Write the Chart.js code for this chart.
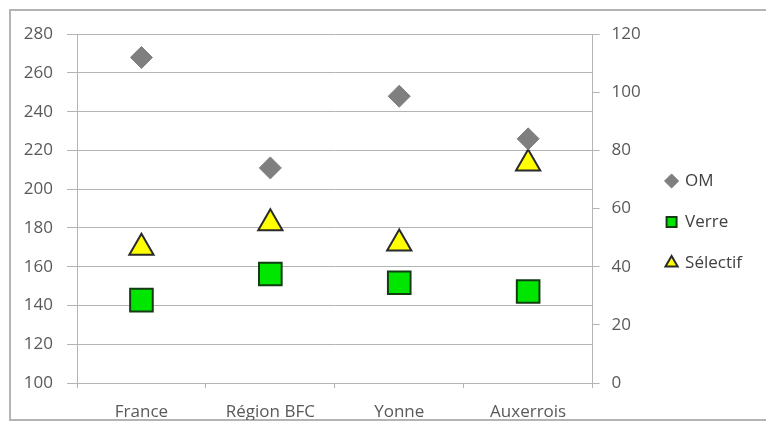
<!DOCTYPE html>
<html>
<head>
<meta charset="utf-8">
<script src="https://cdn.jsdelivr.net/npm/chart.js@4"></script>
<style>
  body { margin: 0; background: #fff; }
  #wrap { position: relative; width: 766px; height: 433px; overflow: hidden; }
  #frame { position: absolute; left: 9px; top: 9px; width: 780px; height: 412px; border: 2px solid #b4b4b4; box-sizing: border-box; }
  canvas { position: absolute; left: 0; top: 0; }
</style>
</head>
<body>
<div id="wrap">
  <div id="frame"></div>
  <canvas id="chart" width="766" height="433"></canvas>
</div>
<script>
// valeurs (kg/hab)
const categories = ['France', 'Région BFC', 'Yonne', 'Auxerrois'];
const omValues = [268, 211, 248, 226];
const verreValues = [28.5, 37.5, 34.5, 31.5];
const selectifValues = [46.5, 55, 48, 75.5];

const leftTicks = { min: 100, max: 280, step: 20 };
const rightTicks = { min: 0, max: 120, step: 20 };

const axisColor = '#b4b4b4';
const labelColor = '#595959';
const font = { family: '"Open Sans", sans-serif', size: 17 };

const ctx = document.getElementById('chart').getContext('2d');
new Chart(ctx, {
    type: 'line',
    data: {
        labels: categories,
        datasets: [
            {
                label: 'OM',
                data: omValues,
                yAxisID: 'y',
                showLine: false,
                pointStyle: 'rectRot',
                pointRadius: 11,
                backgroundColor: '#7f7f7f',
                borderColor: '#7f7f7f',
                borderWidth: 1
            },
            {
                label: 'Verre',
                data: verreValues,
                yAxisID: 'y2',
                showLine: false,
                pointStyle: 'rect',
                pointRadius: 16,
                backgroundColor: '#00e600',
                borderColor: '#123d12',
                borderWidth: 2
            },
            {
                label: 'Sélectif',
                data: selectifValues,
                yAxisID: 'y2',
                showLine: false,
                pointStyle: 'triangle',
                pointRadius: 14,
                backgroundColor: '#ffff00',
                borderColor: '#2a2a2a',
                borderWidth: 2
            }
        ]
    },
    options: {
        responsive: false,
        animation: false,
        layout: { padding: { top: 24, left: 10, right: 14, bottom: 13 } },
        plugins: {
            tooltip: { enabled: false },
            // titre vide, seulement pour descendre la zone du graphe sans bouger la légende
            title: {
                display: true,
                text: ' ',
                fullSize: false,
                font: { size: 1 },
                padding: { top: 9, bottom: 0 }
            },
            legend: {
                position: 'right',
                labels: {
                    usePointStyle: true,
                    boxWidth: 10,
                    boxHeight: 10,
                    padding: 24,
                    color: '#404040',
                    font: font
                }
            }
        },
        scales: {
            x: {
                offset: true,
                grid: {
                    offset: true,
                    drawOnChartArea: false,
                    drawTicks: true,
                    tickLength: 5,
                    color: axisColor
                },
                border: { color: axisColor, width: 1 },
                ticks: { color: labelColor, font: font, padding: 14, maxRotation: 0 },
                afterFit: s => { s.height = 37; }
            },
            y: {
                position: 'left',
                min: leftTicks.min,
                max: leftTicks.max,
                ticks: { stepSize: leftTicks.step, color: labelColor, font: font, padding: 14 },
                grid: { color: axisColor, tickLength: 10 },
                border: { color: axisColor, width: 1 },
                afterFit: s => { s.width = 67; }
            },
            y2: {
                position: 'right',
                min: rightTicks.min,
                max: rightTicks.max,
                ticks: { stepSize: rightTicks.step, color: labelColor, font: font, padding: 12 },
                grid: { drawOnChartArea: false, color: axisColor, tickLength: 7 },
                border: { color: axisColor, width: 1 },
                afterFit: s => { s.width = 50; }
            }
        }
    }
});
</script>
</body>
</html>
